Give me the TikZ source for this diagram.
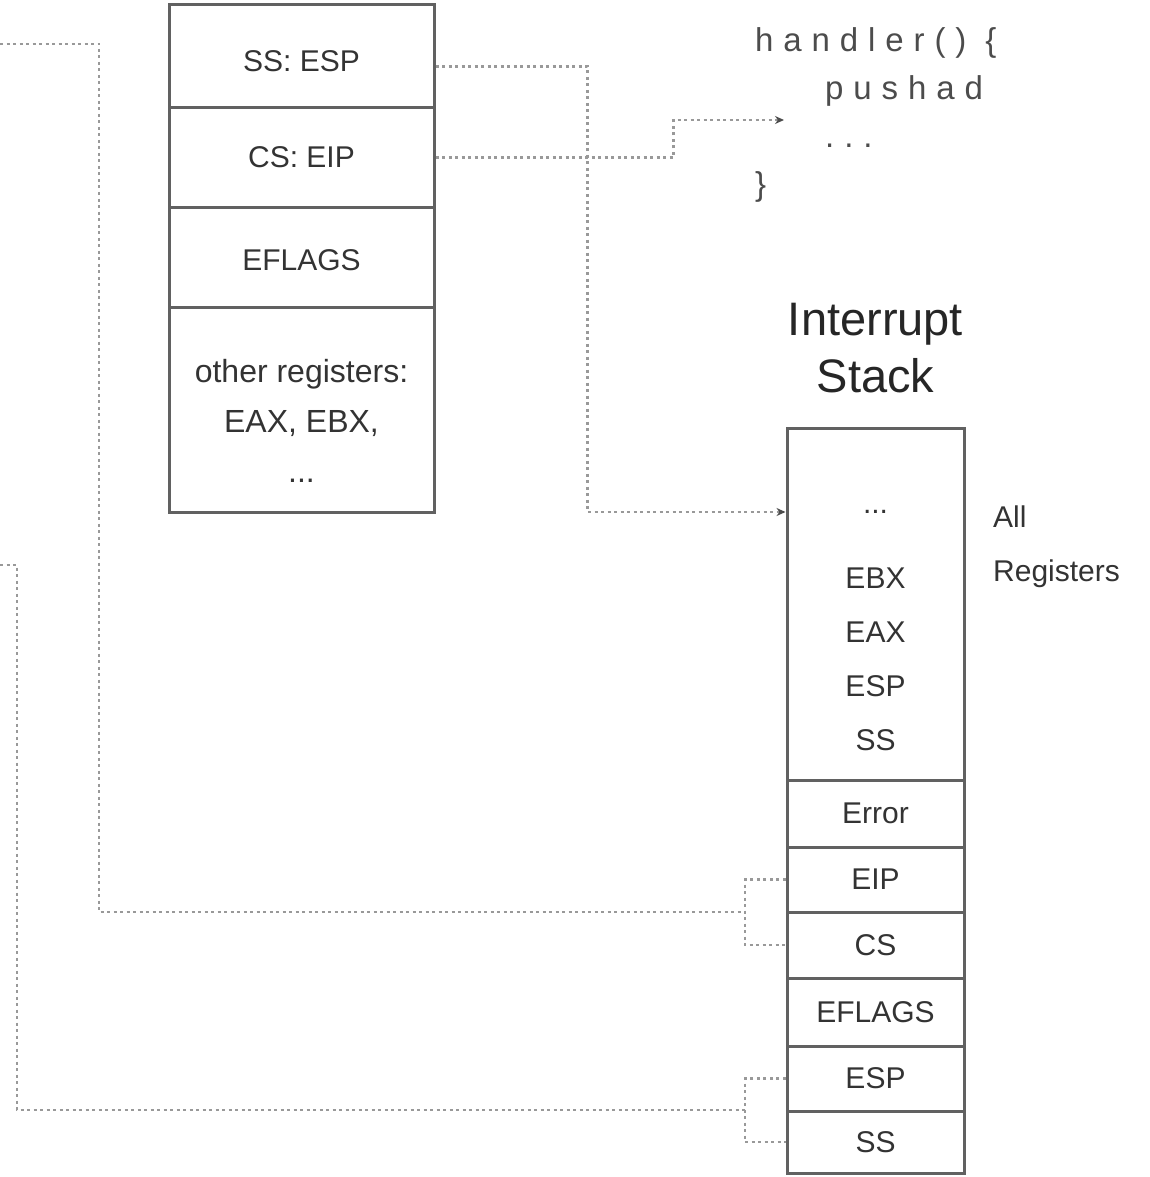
\documentclass[tikz,border=0pt]{standalone}
\usepackage{fontspec}
\setmainfont{Liberation Sans}
\newfontfamily\codefont[LetterSpace=30]{Liberation Sans}
\usetikzlibrary{arrows.meta}
\begin{document}
\begin{tikzpicture}[x=1pt,y=-1pt,
  cell/.style={draw=black!62, line width=3pt, minimum width=265pt, inner sep=0pt,
               font=\fontsize{30}{36}\selectfont, text=black!80},
  scell/.style={cell, minimum width=177pt},
  lbl/.style={font=\fontsize{30}{36}\selectfont, text=black!80, inner sep=0pt},
  title/.style={font=\fontsize{47}{56}\selectfont, text=black!85, inner sep=0pt, anchor=base},
  conn/.style={draw=black!40, line width=2.5pt, dash pattern=on 3pt off 3.5pt},
  arr/.style={-{Stealth[length=9pt,width=8pt,black!70]}},
  code/.style={font=\codefont\fontsize{33}{40}\selectfont, text=black!70, inner sep=0pt, anchor=base west}]
\useasboundingbox (0,0) rectangle (1149,1177);

% left register box
\node[cell, minimum height=103pt] (ssesp) at (301.5,56.5) {};
\node[lbl] (ssesptext) at (301.5,61) {SS: ESP};
\node[cell, minimum height=99pt] (cseip) at (301.5,157.5) {CS: EIP};
\node[cell, minimum height=100pt] (eflagsA) at (301.5,257.5) {};
\node[lbl] (eflagsAtext) at (301.5,260) {EFLAGS};
\node[cell, minimum height=205pt] (others) at (301.5,409.5) {};
\node[lbl, align=center, font=\fontsize{32}{50}\selectfont] (otherstext) at (301.5,421)
  {other registers:\\EAX, EBX,\\...};

% handler code
\node[code] (codeA) at (755,52) {handler() \{};
\node[code] (codeB) at (825,100) {pushad};
\node[code] (codeC) at (825,148) {...};
\node[code] (codeD) at (755,196) {\}};
\coordinate (codetarget) at (784,120);

% interrupt stack
\node[title] (titleA) at (875.5,335) {Interrupt};
\node[title] (titleB) at (875.5,392) {Stack};
\node[scell, minimum height=352pt] (regs) at (875.5,604) {};
\node[lbl] (dots) at (875.5,512) {...};
\node[lbl] (ebx) at (875.5,578) {EBX};
\node[lbl] (eax) at (875.5,632) {EAX};
\node[lbl] (espA) at (875.5,686) {ESP};
\node[lbl] (ssA) at (875.5,740) {SS};
\node[scell, minimum height=67pt] (error) at (875.5,813.5) {Error};
\node[scell, minimum height=65pt] (eip) at (875.5,879.5) {EIP};
\node[scell, minimum height=66pt] (cs) at (875.5,945) {CS};
\node[scell, minimum height=68pt] (eflagsB) at (875.5,1012) {EFLAGS};
\node[scell, minimum height=65pt] (espB) at (875.5,1078.5) {ESP};
\node[scell, minimum height=62pt] (ssB) at (875.5,1142) {SS};
\node[lbl, anchor=base west] (allA) at (993,527) {All};
\node[lbl, anchor=base west] (allB) at (993,581) {Registers};

% connectors
\draw[conn, arr] ([yshift=-10pt]ssesp.east) -- ++(152,0) |- (dots -| regs.west);
\draw[conn, arr] (cseip.east) -- ++(238,0) |- (codetarget);

\coordinate (inA) at (0,44);
\coordinate (inB) at (0,565);
\coordinate (brA) at (745,912);
\coordinate (brB) at (745,1110);
\draw[conn] (inA) -- ++(99,0) |- (brA);
\draw[conn] (eip.west) -| (brA) |- (cs.west);
\draw[conn] (inB) -- ++(17,0) |- (brB);
\draw[conn] (espB.west) -| (brB) |- (ssB.west);
\end{tikzpicture}
\end{document}
